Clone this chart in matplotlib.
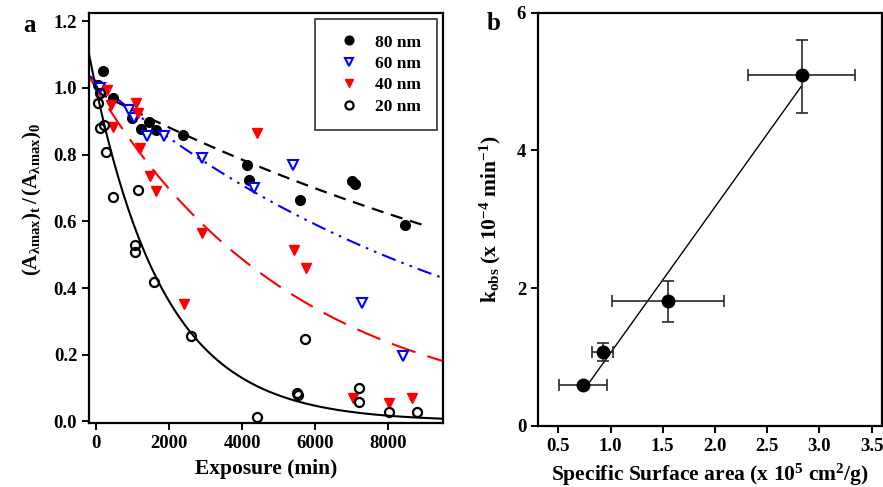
import matplotlib
matplotlib.use("Agg")
import matplotlib.pyplot as plt
import numpy as np

plt.rcParams['font.family'] = ['Liberation Serif', 'DejaVu Serif']
plt.rcParams['font.weight'] = 'bold'
plt.rcParams['mathtext.fontset'] = 'custom'
plt.rcParams['mathtext.rm'] = 'Liberation Serif:bold'
plt.rcParams['mathtext.it'] = 'Liberation Serif:bold'
plt.rcParams['mathtext.bf'] = 'Liberation Serif:bold'

# panel a: normalised absorbance vs exposure time
t80 = [60, 180, 480, 980, 1230, 1440, 1650, 2390, 4130, 4190, 5590, 7010, 7080, 8460]
a80 = [1.01, 1.05, 0.97, 0.91, 0.877, 0.897, 0.873, 0.86, 0.768, 0.725, 0.665, 0.72, 0.713, 0.588]

t60 = [110, 900, 1050, 1390, 1870, 2890, 4330, 5390, 7280, 8410]
a60 = [1.0, 0.935, 0.91, 0.855, 0.855, 0.79, 0.70, 0.77, 0.355, 0.197]

t40 = [290, 400, 480, 1100, 1140, 1210, 1470, 1640, 2420, 2910, 4420, 5430, 5750, 7040, 8020, 8660]
a40 = [0.995, 0.95, 0.883, 0.955, 0.925, 0.82, 0.735, 0.69, 0.353, 0.565, 0.865, 0.513, 0.46, 0.07, 0.055, 0.07]

t20 = [60, 110, 110, 220, 280, 480, 1070, 1070, 1160, 1580, 2590, 4400, 5500, 5520, 5720, 7190, 7190, 8020, 8800]
a20 = [0.955, 0.985, 0.88, 0.89, 0.807, 0.673, 0.53, 0.507, 0.693, 0.418, 0.255, 0.013, 0.085, 0.078, 0.248, 0.101, 0.057, 0.027, 0.027]

# first-order fit parameters: A * exp(-k t)
fit80 = (0.99, 0.58e-4)
fit60 = (1.02, 0.91e-4)
fit40 = (1.00, 1.80e-4)
fit20 = (1.00, 5.10e-4)

# panel b: k_obs vs specific surface area
ssa = [0.739, 0.924, 1.546, 2.836]
ssa_lo = [0.51, 0.82, 1.01, 2.32]
ssa_hi = [0.968, 1.026, 2.084, 3.34]
kobs = [0.595, 1.078, 1.814, 5.09]
kobs_lo = [0.595, 0.95, 1.51, 4.55]
kobs_hi = [0.595, 1.21, 2.10, 5.61]

fig = plt.figure(figsize=(8.83, 4.87), dpi=100)
ax1 = fig.add_axes([0.1008, 0.1314, 0.4009, 0.8426])
ax2 = fig.add_axes([0.6093, 0.1253, 0.3897, 0.8487])

tt = np.linspace(-190, 9500, 300)
t_short = np.linspace(0, 9080, 300)
ax1.plot(t_short, fit80[0] * np.exp(-fit80[1] * t_short), color='black', lw=1.6, dashes=(5.5, 3.5))
ax1.plot(tt, fit60[0] * np.exp(-fit60[1] * tt), color='blue', lw=1.5, dashes=(7, 3, 1.2, 3, 1.2, 3))
ax1.plot(tt, fit40[0] * np.exp(-fit40[1] * tt), color='red', lw=1.5, dashes=(12, 6))
ax1.plot(tt, fit20[0] * np.exp(-fit20[1] * tt), color='black', lw=1.5)

ax1.plot(t80, a80, 'o', color='black', ms=7, label='80 nm')
ax1.plot(t60, a60, 'v', mfc='white', mec='blue', mew=1.5, ms=7, label='60 nm')
ax1.plot(t40, a40, 'v', color='red', ms=7, label='40 nm')
ax1.plot(t20, a20, 'o', mfc='none', mec='black', mew=1.6, ms=6.5, label='20 nm')

ax1.set_xlim(-190, 9500)
ax1.set_ylim(-0.005, 1.226)
ax1.set_xticks([0, 2000, 4000, 6000, 8000])
ax1.set_yticks(np.arange(0, 1.21, 0.2))
ax1.set_yticklabels(['0.0', '0.2', '0.4', '0.6', '0.8', '1.0', '1.2'])
ax1.set_xlabel('Exposure (min)', fontsize=15.5, fontweight='bold', labelpad=5)
ax1.set_ylabel(r'$(\mathrm{A}_{\lambda\mathrm{max}})_\mathrm{t}\//\/(\mathrm{A}_{\lambda\mathrm{max}})_0$',
               fontsize=15, labelpad=4)
ax1.yaxis.set_label_coords(-0.128, 0.545)
leg = ax1.legend(loc='upper right', fontsize=12.5, frameon=True, fancybox=False,
                 edgecolor='black', handletextpad=0.45, borderpad=0.9, labelspacing=0.3,
                 handlelength=2.1, borderaxespad=0.35, markerscale=0.9)
leg.get_frame().set_linewidth(1.2)
for txt in leg.get_texts():
    txt.set_fontweight('bold')

b, a = np.polyfit(ssa, kobs, 1)
xs = np.linspace(0.787, 2.827, 50)
ax2.plot(xs, b * xs + a, color='black', lw=1.0)
xerr = [np.array(ssa) - np.array(ssa_lo), np.array(ssa_hi) - np.array(ssa)]
yerr = [np.array(kobs) - np.array(kobs_lo), np.array(kobs_hi) - np.array(kobs)]
ax2.errorbar(ssa, kobs, xerr=xerr, yerr=yerr, fmt='o', color='black', ms=9,
             ecolor='#2a2a2a', elinewidth=1.2, capsize=4, capthick=1.2)
ax2.set_xlim(0.306, 3.6)
ax2.set_ylim(0, 6)
ax2.set_xticks([0.5, 1.0, 1.5, 2.0, 2.5, 3.0, 3.5])
ax2.set_xticklabels(['0.5', '1.0', '1.5', '2.0', '2.5', '3.0', '3.5'])
ax2.set_yticks([0, 2, 4, 6])
ax2.set_xlabel(r'Specific Surface area (x 10$^5$ cm$^2$/g)', fontsize=15.5, fontweight='bold', labelpad=5)
ax2.set_ylabel(r'k$_\mathrm{obs}$ (x 10$^{-4}$ min$^{-1}$)', fontsize=15.5, fontweight='bold', labelpad=10)

for ax in (ax1, ax2):
    for sp in ax.spines.values():
        sp.set_linewidth(1.6)
    ax.tick_params(direction='out', length=5, width=1.4, labelsize=13.5, top=False, right=False)
    for lab in ax.get_xticklabels() + ax.get_yticklabels():
        lab.set_fontweight('bold')

fig.text(0.026, 0.935, 'a', fontsize=18, fontweight='bold')
fig.text(0.5515, 0.938, 'b', fontsize=18, fontweight='bold')

fig.savefig('out.png', dpi=100)
